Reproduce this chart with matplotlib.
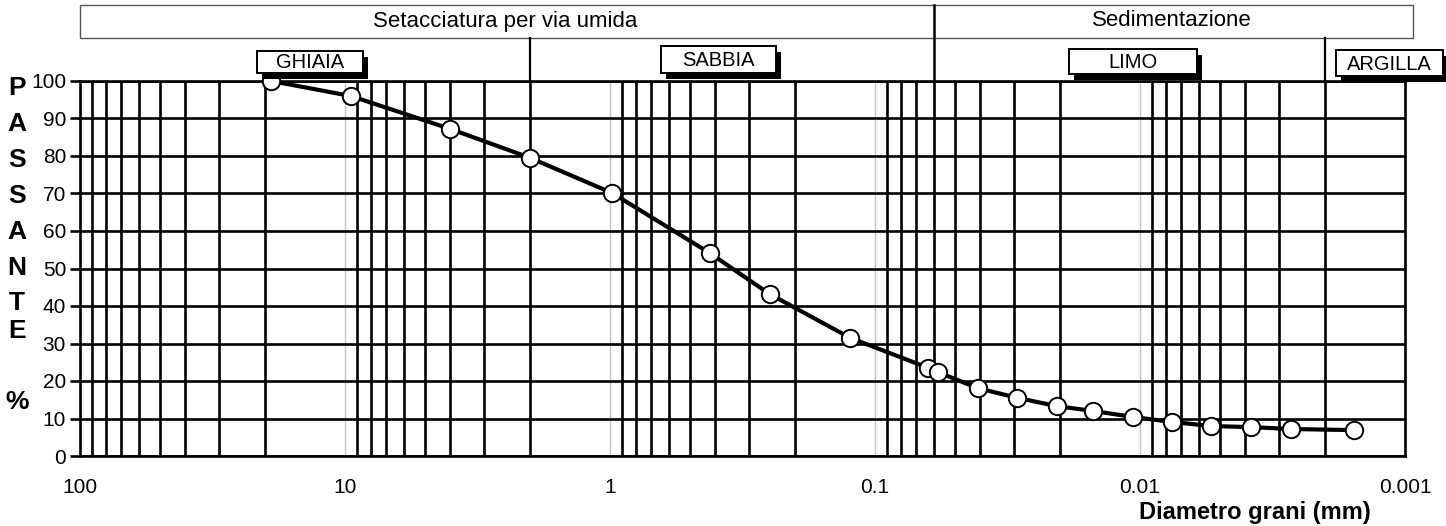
import matplotlib.pyplot as plt
import matplotlib.transforms as mtransforms
from matplotlib.patches import Rectangle
from matplotlib.lines import Line2D
from matplotlib.ticker import LogLocator, FixedLocator, FixedFormatter, NullFormatter

plt.rcParams['font.family'] = ['Liberation Sans', 'DejaVu Sans']

# Grading curve
diametro = [19.0, 9.5, 4.0, 2.0, 0.98, 0.42, 0.25, 0.124, 0.063, 0.058,
            0.041, 0.029, 0.0206, 0.015, 0.0106, 0.0076, 0.0054, 0.0038,
            0.0027, 0.00156]
passante = [100, 96, 87.2, 79.5, 70.1, 54.1, 43.2, 31.5, 23.5, 22.4,
            18.1, 15.5, 13.3, 12.0, 10.4, 9.1, 8.0, 7.7, 7.2, 6.9]

x_ticks = [100, 10, 1, 0.1, 0.01, 0.001]
x_labels = ['100', '10', '1', '0.1', '0.01', '0.001']
y_ticks = list(range(0, 101, 10))

# limits between classes (mm)
limite_metodi = 0.06
limiti_classi = [2, 0.002]
metodi = ['Setacciatura per via umida', 'Sedimentazione']
classi = ['GHIAIA', 'SABBIA', 'LIMO', 'ARGILLA']
lettere_y = list('PASSANTE') + ['%']

W, H = 1446, 526
fig = plt.figure(figsize=(W / 100, H / 100), dpi=100)
ax = fig.add_axes([80 / W, 1 - 456 / H, 1325 / W, 375 / H])


def px_rect(x, y, w, h, **kw):
    # rectangle in figure pixels (y from top)
    return Rectangle((x / W, 1 - (y + h) / H), w / W, h / H,
                     transform=fig.transFigure, **kw)


# axes / grid
ax.set_xscale('log')
ax.set_xlim(100, 0.001)
ax.set_ylim(0, 100)
ax.xaxis.set_major_locator(FixedLocator(x_ticks))
ax.xaxis.set_major_formatter(FixedFormatter(x_labels))
ax.xaxis.set_minor_locator(LogLocator(base=10, subs=range(2, 10), numticks=20))
ax.xaxis.set_minor_formatter(NullFormatter())
ax.set_yticks(y_ticks)
ax.grid(which='major', axis='x', color='#c4c4c4', lw=1.0)
ax.grid(which='minor', axis='x', color='black', lw=1.9)
ax.grid(which='major', axis='y', color='black', lw=1.9)
ax.tick_params(axis='x', which='both', length=0, pad=16, labelsize=15)
ax.tick_params(axis='y', length=7, width=1.9, pad=3, labelsize=15)
for s in ax.spines.values():
    s.set_linewidth(1.9)
    s.set_zorder(3)

ax.plot(diametro, passante, color='black', lw=3.0, marker='o', ms=12.5,
        mfc='white', mec='black', mew=1.4, zorder=5, clip_on=False)

# header: methods
fig.add_artist(px_rect(80, 5, 1333, 33, fill=False, ec='#555555', lw=1.0))
fig.text(505 / W, 1 - 21 / H, metodi[0], ha='center', va='center', fontsize=16)
fig.text(1172 / W, 1 - 21 / H, metodi[1], ha='center', va='center', fontsize=16)

trans = mtransforms.blended_transform_factory(ax.transData, fig.transFigure)
fig.add_artist(Line2D([limite_metodi, limite_metodi], [1 - 5 / H, 1 - 81 / H],
                      transform=trans, color='black', lw=1.8))
for lim in limiti_classi:
    fig.add_artist(Line2D([lim, lim], [1 - 38 / H, 1 - 81 / H],
                          transform=trans, color='black', lw=1.6))

# class labels with shadow boxes
box_px = [(257, 51, 106, 22), (661, 46, 115, 27), (1069, 49, 128, 25), (1336, 50, 107, 26)]
for name, (bx, by, bw, bh) in zip(classi, box_px):
    fig.add_artist(px_rect(bx + 5, by + 6, bw, bh, fc='black', ec='none'))
    fig.add_artist(px_rect(bx, by, bw, bh, fc='white', ec='black', lw=1.4))
    fig.text((bx + bw / 2) / W, 1 - (by + bh / 2 + 1) / H, name,
             ha='center', va='center', fontsize=14.5)

# vertical y label
ys = [88, 124, 160, 196, 232, 268, 303, 331, 402]
for ch, yy in zip(lettere_y, ys):
    fig.text(17 / W, 1 - yy / H, ch, ha='center', va='center',
             fontsize=19, fontweight='bold')

fig.text(1255 / W, 1 - 512 / H, 'Diametro grani (mm)', ha='center', va='center',
         fontsize=17, fontweight='bold')

fig.savefig('out.png', dpi=100)
